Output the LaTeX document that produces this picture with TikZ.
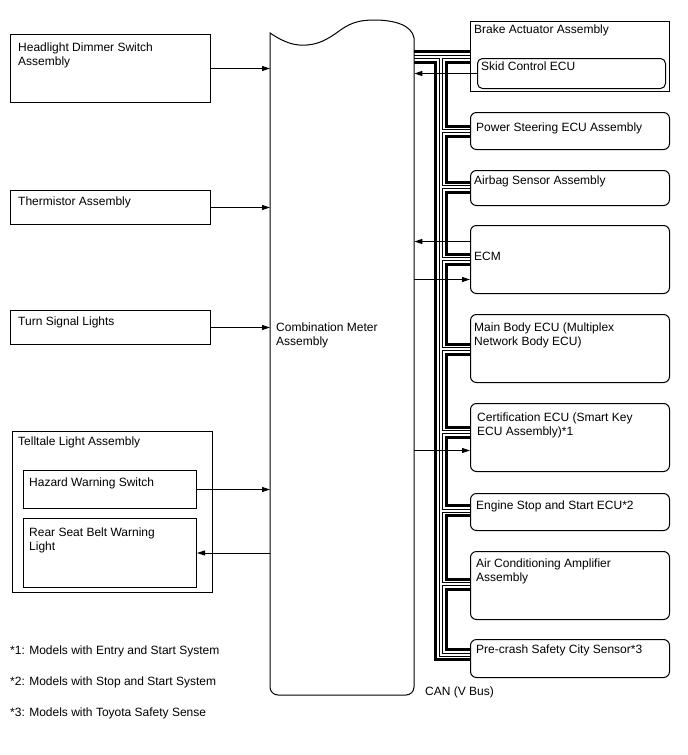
\documentclass[tikz,border=0pt]{standalone}
\usepackage{fontspec}
\setmainfont{Liberation Sans}
\usetikzlibrary{arrows.meta,backgrounds}
\begin{document}
\begin{tikzpicture}[x=1pt,y=-1pt,
  sbox/.style={draw, line width=1pt, inner sep=0, anchor=north west},
  rbox/.style={sbox, rounded corners=6pt},
  txt/.style={inner sep=0, anchor=north west, align=left, font=\fontsize{12}{14}\selectfont},
  arr/.style={line width=1pt, -{Triangle[length=8pt,width=5pt]}},
  can/.style={line width=3pt, line join=miter},
  canb/.style={line width=4pt, line join=miter},
  canw/.style={line width=2pt, white, line join=miter}]
\useasboundingbox (0,0) rectangle (688,755);

% Combination meter
\node[inner sep=0, minimum width=144pt, minimum height=675pt, anchor=north west] (meter) at (270,20) {};
\draw[line width=1pt] (270,33) .. controls (285,43) and (295,46) .. (307,45)
  .. controls (322,44) and (332,36) .. (342,29)
  .. controls (352,22) and (362,20) .. (374,20)
  .. controls (394,20) and (412,25) .. (414,38)
  {[rounded corners=8pt] -- (414,695) -- (270,695)} -- cycle;
\node[txt] (tmeter) at (276,322.5) {Combination Meter\\Assembly};

% Left boxes
\node[sbox, minimum width=200pt, minimum height=68pt] (hl) at (10,34) {};
\node[txt] (thl) at (18,42.5) {Headlight Dimmer Switch\\Assembly};
\node[sbox, minimum width=200pt, minimum height=34pt] (th) at (10,190) {};
\node[txt] (tth) at (18,196.5) {Thermistor Assembly};
\node[sbox, minimum width=200pt, minimum height=34pt] (ts) at (10,310) {};
\node[txt] (tts) at (18,316.5) {Turn Signal Lights};
\node[sbox, minimum width=200pt, minimum height=161pt] (tt) at (12,431) {};
\node[txt] (ttt) at (18,436.5) {Telltale Light Assembly};
\node[sbox, minimum width=173pt, minimum height=38pt] (hz) at (23,470) {};
\node[txt] (thz) at (29,477.5) {Hazard Warning Switch};
\node[sbox, minimum width=173pt, minimum height=69pt] (rs) at (23,518) {};
\node[txt] (trs) at (29,527.5) {Rear Seat Belt Warning\\Light};

% Right boxes
\node[sbox, minimum width=199pt, minimum height=70pt] (brake) at (470,21) {};
\node[txt] (tbrake) at (474,24.5) {Brake Actuator Assembly};
\node[sbox, rounded corners=5pt, minimum width=188pt, minimum height=30pt] (skid) at (477,58) {};
\node[txt] (tskid) at (481,61.5) {Skid Control ECU};
\node[rbox, minimum width=199pt, minimum height=37pt] (ps) at (470,112) {};
\node[txt] (tps) at (476,122.5) {Power Steering ECU Assembly};
\node[rbox, minimum width=199pt, minimum height=35pt] (ab) at (470,170) {};
\node[txt] (tab) at (474,175.5) {Airbag Sensor Assembly};
\node[rbox, minimum width=199pt, minimum height=68pt] (ecm) at (470,225) {};
\node[txt] (tecm) at (474,251.5) {ECM};
\node[rbox, minimum width=199pt, minimum height=68pt] (mb) at (470,314) {};
\node[txt] (tmb) at (474,322.5) {Main Body ECU (Multiplex\\Network Body ECU)};
\node[rbox, minimum width=199pt, minimum height=68pt] (cert) at (470,403) {};
\node[txt] (tcert) at (477,412.5) {Certification ECU (Smart Key\\ECU Assembly)*1};
\node[rbox, minimum width=199pt, minimum height=37pt] (es) at (470,493) {};
\node[txt] (tes) at (476,500.5) {Engine Stop and Start ECU*2};
\node[rbox, minimum width=199pt, minimum height=68pt] (ac) at (470,551) {};
\node[txt] (tac) at (476,558.5) {Air Conditioning Amplifier\\Assembly};
\node[rbox, minimum width=199pt, minimum height=38pt] (pc) at (470,639) {};
\node[txt] (tpc) at (476,644.5) {Pre-crash Safety City Sensor*3};
\node[txt] (tcan) at (425,686.5) {CAN (V Bus)};

% Footnotes
\node[txt] (f1) at (10,645.5) {*1: Models with Entry and Start System};
\node[txt] (f2) at (10,676.5) {*2: Models with Stop and Start System};
\node[txt] (f3) at (10,707.5) {*3: Models with Toyota Safety Sense};

% CAN bus (behind the boxes)
\begin{pgfonlayer}{background}
  \fill[white] (0,0) rectangle (688,755);
  % thick lines
  \draw[can] (meter.east |- 0,51.5) -- (brake.west |- 0,51.5);
  \draw[can] (meter.east |- 0,62) -- (435.5,62) -- (435.5,659.5) -- (pc.west |- 0,659.5);
  \foreach \a/\ya/\b/\yb in {brake/62/ps/126, ps/136/ab/182, ab/192/ecm/254, ecm/264/mb/344, mb/354/cert/427, cert/437/es/505.5, es/515.5/ac/579, ac/589/pc/649.5}
    \draw[can] (\a.west |- 0,\ya) -- (446.5,\ya) -- (446.5,\yb) -- (\b.west |- 0,\yb);
  % double line: black pass
  \draw[canb] (meter.east |- 0,56.5) -- (brake.west |- 0,56.5);
  \draw[canb] (441,56.5) -- (441,654.5) -- (pc.west |- 0,654.5);
  \foreach \n/\d in {ps/131, ab/187, ecm/259, mb/349, cert/432, es/510.5, ac/584}
    \draw[canb] (441,\d) -- (\n.west |- 0,\d);
  % double line: white pass
  \draw[canw] (meter.east |- 0,56.5) -- (brake.west |- 0,56.5);
  \draw[canw] (441,56.5) -- (441,654.5) -- (pc.west |- 0,654.5);
  \foreach \n/\d in {ps/131, ab/187, ecm/259, mb/349, cert/432, es/510.5, ac/584}
    \draw[canw] (441,\d) -- (\n.west |- 0,\d);
\end{pgfonlayer}

% Signal arrows
\draw[arr] (hl) -- (hl -| meter.west);
\draw[arr] (th) -- (th -| meter.west);
\draw[arr] (ts) -- (ts -| meter.west);
\draw[arr] (hz) -- (hz -| meter.west);
\draw[arr] (rs -| meter.west) -- (rs);
\draw[arr] (skid) -- (skid -| meter.east);
\draw[arr] ([yshift=18pt]ecm.west) -- ([yshift=18pt]ecm.west -| meter.east);
\draw[arr] ([yshift=-20pt]ecm.west -| meter.east) -- ([yshift=-20pt]ecm.west);
\draw[arr] ([yshift=-13pt]cert.west -| meter.east) -- ([yshift=-13pt]cert.west);
\end{tikzpicture}
\end{document}
